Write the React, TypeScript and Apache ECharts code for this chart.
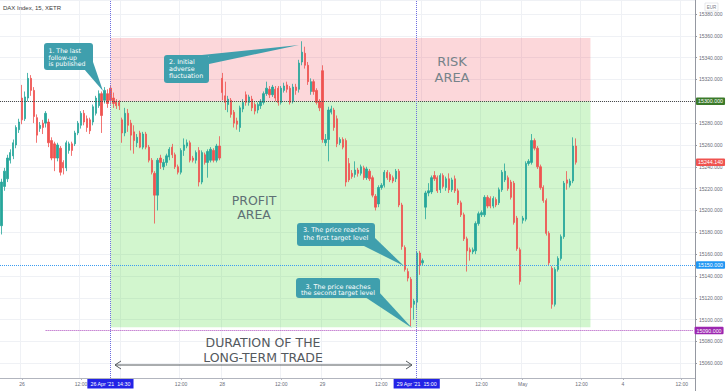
import React, { useEffect, useRef } from "react";
import * as echarts from "echarts";

// ---- time axis ----
const sessionDays = ["Apr 23", "Apr 26", "Apr 27", "Apr 28", "Apr 29", "Apr 30", "May 03", "May 04"];
const firstSessionStart = "13:45";
const sessionOpen = "07:00";
const barsPerSession = 34;
const slotCount = 236;

// tick label per time slot ("" = grid line only, label hidden under a time marker)
const timeTicks: [string, string][] = [
  ["Apr 26 07:00", "26"], ["Apr 26 12:00", "12:00"],
  ["Apr 27 07:00", ""], ["Apr 27 12:00", "12:00"],
  ["Apr 28 07:00", "28"], ["Apr 28 12:00", "12:00"],
  ["Apr 29 07:00", "29"], ["Apr 29 12:00", "12:00"],
  ["Apr 30 07:00", ""], ["Apr 30 12:00", "12:00"],
  ["May 03 07:00", "May"], ["May 03 12:00", "12:00"],
  ["May 04 07:00", "4"], ["May 04 12:00", "12:00"],
];

// ---- price data: [open, close, low, high] (DAX 15m) ----
const candlesPre: number[][] = [
  [15186, 15226, 15178, 15229], [15222, 15236, 15218, 15239], [15229, 15248, 15226, 15251], [15246, 15253, 15243, 15256],
  [15250, 15262, 15247, 15265], [15260, 15276, 15257, 15278], [15274, 15281, 15271, 15284], [15303, 15283, 15279, 15315],
  [15284, 15304, 15282, 15309], [15303, 15321, 15300, 15326], [15321, 15310, 15305, 15324], [15310, 15286, 15280, 15313],
  [15285, 15269, 15262, 15288], [15275, 15278, 15272, 15281], [15280, 15276, 15270, 15283], [15280, 15289, 15276, 15291],
  [15281, 15262, 15258, 15284], [15264, 15248, 15246, 15267], [15261, 15248, 15236, 15263], [15248, 15260, 15245, 15262],
  [15257, 15235, 15232, 15259], [15244, 15239, 15233, 15246], [15239, 15262, 15236, 15264], [15255, 15261, 15252, 15263],
  [15261, 15255, 15250, 15263], [15261, 15271, 15259, 15273], [15271, 15280, 15269, 15282], [15278, 15289, 15275, 15291],
  [15289, 15281, 15278, 15292], [15284, 15276, 15272, 15287], [15283, 15273, 15270, 15285], [15281, 15295, 15278, 15297],
  [15289, 15303, 15287, 15305], [15296, 15307, 15294, 15310], [15307, 15287, 15271, 15309], [15301, 15310, 15298, 15313],
  [15307, 15298, 15294, 15311],
];
const candlesApr26to27: number[][] = [
  [15312, 15301, 15297, 15315], [15303, 15298, 15294, 15308], [15300, 15296, 15293, 15302], [15299, 15296, 15292, 15301],
  [15283, 15271, 15262, 15285], [15271, 15289, 15268, 15294], [15289, 15278, 15272, 15293], [15280, 15269, 15255, 15283],
  [15272, 15264, 15252, 15278], [15262, 15267, 15258, 15270], [15271, 15258, 15257, 15273], [15258, 15270, 15256, 15272],
  [15270, 15258, 15256, 15272], [15258, 15246, 15244, 15260], [15246, 15235, 15233, 15248], [15234, 15214, 15188, 15236],
  [15214, 15246, 15200, 15248], [15248, 15244, 15238, 15251], [15240, 15244, 15237, 15247], [15244, 15250, 15241, 15252],
  [15249, 15256, 15246, 15258], [15258, 15251, 15248, 15261], [15251, 15240, 15238, 15253], [15240, 15235, 15233, 15242],
  [15235, 15255, 15233, 15257], [15255, 15260, 15250, 15266], [15259, 15262, 15257, 15265], [15262, 15246, 15244, 15264],
  [15248, 15246, 15244, 15250], [15246, 15253, 15243, 15255], [15255, 15226, 15222, 15258], [15226, 15253, 15224, 15255],
  [15251, 15244, 15242, 15253], [15244, 15254, 15230, 15256], [15246, 15256, 15244, 15258], [15255, 15246, 15244, 15257],
  [15246, 15259, 15244, 15261], [15259, 15248, 15246, 15268],
];
const candlesApr28to29: number[][] = [
  [15321, 15308, 15301, 15326], [15305, 15299, 15292, 15318], [15297, 15302, 15290, 15305], [15301, 15288, 15285, 15303],
  [15290, 15280, 15276, 15292], [15282, 15279, 15274, 15285], [15276, 15294, 15272, 15296], [15293, 15299, 15290, 15302],
  [15306, 15299, 15296, 15309], [15299, 15304, 15296, 15306], [15302, 15294, 15291, 15305], [15297, 15291, 15288, 15299],
  [15292, 15297, 15289, 15299], [15296, 15300, 15293, 15302], [15299, 15307, 15297, 15309], [15307, 15312, 15305, 15318],
  [15311, 15306, 15303, 15314], [15306, 15313, 15304, 15315], [15311, 15303, 15300, 15314], [15312, 15299, 15296, 15314],
  [15299, 15312, 15297, 15314], [15310, 15314, 15308, 15317], [15315, 15311, 15308, 15318], [15312, 15299, 15297, 15314],
  [15300, 15313, 15298, 15316], [15313, 15310, 15306, 15316], [15311, 15335, 15308, 15338], [15336, 15345, 15333, 15355],
  [15344, 15333, 15330, 15350], [15333, 15318, 15315, 15336], [15309, 15318, 15306, 15321], [15318, 15309, 15306, 15320],
  [15310, 15299, 15297, 15312], [15300, 15294, 15291, 15302],
  [15328, 15265, 15262, 15333], [15262, 15265, 15259, 15270], [15265, 15292, 15245, 15295], [15290, 15293, 15288, 15296],
  [15292, 15276, 15273, 15294], [15284, 15261, 15258, 15287], [15262, 15265, 15260, 15267], [15265, 15258, 15256, 15267],
  [15264, 15226, 15222, 15266], [15243, 15228, 15226, 15248], [15234, 15231, 15229, 15237], [15233, 15237, 15230, 15245],
  [15237, 15234, 15231, 15239], [15234, 15240, 15232, 15242], [15239, 15230, 15228, 15241], [15230, 15238, 15228, 15240],
  [15236, 15229, 15227, 15238], [15230, 15214, 15212, 15232], [15213, 15203, 15200, 15215], [15206, 15221, 15203, 15223],
  [15221, 15223, 15219, 15225], [15223, 15235, 15221, 15237], [15235, 15230, 15228, 15237], [15233, 15228, 15226, 15235],
  [15230, 15227, 15225, 15232], [15229, 15236, 15226, 15238], [15236, 15205, 15203, 15238], [15205, 15167, 15164, 15207],
  [15166, 15146, 15144, 15168], [15144, 15138, 15135, 15147], [15137, 15111, 15094, 15139], [15114, 15117, 15100, 15119],
  [15116, 15161, 15110, 15163], [15161, 15150, 15141, 15163],
];
const candlesApr30toMay3: number[][] = [
  [15152, 15154, 15150, 15156], [15203, 15216, 15192, 15218], [15216, 15218, 15213, 15225], [15217, 15230, 15215, 15232],
  [15232, 15229, 15227, 15236], [15230, 15218, 15216, 15232], [15219, 15232, 15216, 15234], [15232, 15222, 15220, 15234],
  [15221, 15229, 15218, 15231], [15229, 15219, 15216, 15234], [15219, 15228, 15217, 15230], [15229, 15218, 15216, 15232],
  [15218, 15207, 15205, 15220], [15207, 15196, 15194, 15209], [15196, 15174, 15172, 15198], [15174, 15163, 15144, 15176],
  [15164, 15162, 15154, 15166], [15162, 15164, 15160, 15166], [15163, 15188, 15160, 15190], [15188, 15197, 15186, 15199],
  [15196, 15198, 15194, 15200], [15196, 15212, 15194, 15214], [15212, 15204, 15202, 15214], [15211, 15204, 15202, 15213],
  [15204, 15211, 15202, 15213], [15210, 15205, 15203, 15212], [15207, 15219, 15205, 15221], [15219, 15235, 15217, 15237],
  [15228, 15236, 15226, 15243], [15230, 15220, 15218, 15232], [15226, 15212, 15210, 15228], [15225, 15189, 15187, 15227],
  [15193, 15165, 15163, 15195], [15164, 15135, 15132, 15166],
  [15191, 15193, 15188, 15195], [15192, 15243, 15190, 15245], [15243, 15245, 15241, 15247], [15244, 15264, 15242, 15270],
  [15264, 15257, 15255, 15266], [15257, 15240, 15238, 15259], [15240, 15221, 15219, 15242], [15221, 15209, 15207, 15223],
  [15209, 15179, 15177, 15211], [15179, 15152, 15150, 15181], [15147, 15114, 15110, 15149], [15114, 15146, 15112, 15148],
  [15146, 15156, 15144, 15158], [15156, 15176, 15154, 15178], [15176, 15225, 15174, 15227], [15228, 15225, 15219, 15236],
  [15223, 15227, 15221, 15229], [15227, 15259, 15225, 15267], [15259, 15244.14, 15242, 15266],
];

// ---- levels ----
const yMin = 15046.5;
const yMax = 15392.8;
const riskTop = 15358;
const entryLevel = 15300;
const profitBottom = 15093;
const target1 = 15150;
const target2 = 15090;
const lastPrice = 15244.14;
const entryTime = "Apr 26 14:30";
const exitTime = "Apr 29 15:00";
const areaEnd = "May 03 12:45";
const target2Start = "Apr 26 09:00";

function buildSlots(): string[] {
  const out: string[] = [];
  const toMin = (s: string) => {
    const [h, m] = s.split(":").map(Number);
    return h * 60 + m;
  };
  const open = toMin(sessionOpen);
  const first = toMin(firstSessionStart);
  sessionDays.forEach((d, di) => {
    for (let k = 0; k < barsPerSession; k++) {
      const m = open + 15 * k;
      if (di === 0 && m < first) continue;
      if (out.length >= slotCount) return;
      out.push(`${d} ${String(Math.floor(m / 60)).padStart(2, "0")}:${String(m % 60).padStart(2, "0")}`);
    }
  });
  return out;
}

const calloutColor = "#3f9fad";
const FONT = "'Liberation Sans', Arial, sans-serif";
const CFONT = "'DejaVu Sans', Verdana, sans-serif";

type Callout = {
  lines: string[];
  box: [number, number, number, number];
  pointer: number[][];
  tx: number;
  ty: number;
  align: string;
  fs: number;
  lh: number;
};

const callouts: Callout[] = [
  { lines: ["1. The last", "follow-up", "is published"], box: [44, 43, 49, 27], pointer: [[84, 69], [93, 62], [103, 91]], tx: 48.5, ty: 57, align: "left", fs: 6.2, lh: 6.5 },
  { lines: ["2. Initial", "adverse", "fluctuation"], box: [164, 55, 45, 28], pointer: [[192, 56], [299, 45], [209, 64], [209, 56]], tx: 169, ty: 69.3, align: "left", fs: 6.4, lh: 6.9 },
  { lines: ["3. The price reaches", "the first target level"], box: [297, 223, 78, 23], pointer: [[362, 245], [375, 238], [404, 266]], tx: 336, ty: 234.3, align: "center", fs: 6.5, lh: 8 },
  { lines: ["3. The price reaches", "the second target level"], box: [296, 278, 84, 20], pointer: [[365, 297], [378, 291], [412, 328]], tx: 338, ty: 290, align: "center", fs: 6.4, lh: 6.8 },
];

function buildOption() {
  const slots = buildSlots();
  const candles = [...candlesPre, ...candlesApr26to27, ...candlesApr28to29, ...candlesApr30toMay3];
  const tickMap = new Map<string, string>(timeTicks);
  const isTick = (_i: number, v: string) => tickMap.has(v);
  const isLabel = (_i: number, v: string) => !!tickMap.get(v);

  const hLabel = (text: string, bg: string) => ({
    show: true,
    position: "end",
    distance: 1,
    formatter: text,
    color: "#fff",
    backgroundColor: bg,
    padding: [1.5, 2, 1, 2],
    borderRadius: 1,
    fontSize: 5.3,
    fontFamily: FONT,
  });
  const vLabel = (text: string) => ({
    show: true,
    position: "start",
    distance: 1,
    formatter: text,
    color: "#fff",
    backgroundColor: "#2323e6",
    padding: [2.5, 3, 2, 3],
    fontSize: 5.3,
    fontFamily: FONT,
  });

  const graphics: any[] = [];
  graphics.push({
    type: "text", x: 3, y: 7.5, z: 100,
    style: { text: "DAX Index, 15, XETR", fill: "#3a3a3a", fontSize: 6, fontFamily: FONT, align: "left", verticalAlign: "middle" },
  });
  graphics.push({ type: "rect", z: 100, shape: { x: 705, y: 3, width: 13, height: 8 }, style: { fill: "#fff", stroke: "#d6d8de", lineWidth: 0.6 } });
  graphics.push({
    type: "text", x: 711.5, y: 7.2, z: 101,
    style: { text: "EUR", fill: "#787b86", fontSize: 4.5, fontFamily: FONT, align: "center", verticalAlign: "middle" },
  });
  graphics.push({ type: "line", z: 100, shape: { x1: 695.5, y1: 378, x2: 695.5, y2: 391 }, style: { stroke: "#9598a1", lineWidth: 1 } });

  const bigText = (text: string, x: number, y: number, size: number, color: string) => ({
    type: "text", x, y, z: 100,
    style: { text, fill: color, fontSize: size, fontFamily: CFONT, align: "center", verticalAlign: "middle" },
  });
  graphics.push(bigText("RISK", 452, 61.5, 13, "#76838a"));
  graphics.push(bigText("AREA", 452, 77.5, 13, "#76838a"));
  graphics.push(bigText("PROFIT", 254, 200.5, 12.5, "#5f7075"));
  graphics.push(bigText("AREA", 254, 214.5, 12.5, "#5f7075"));
  graphics.push(bigText("DURATION OF THE", 263, 342, 12.5, "#54595e"));
  graphics.push(bigText("LONG-TERM TRADE", 263, 357, 12.5, "#54595e"));

  graphics.push({ type: "line", z: 100, shape: { x1: 115, y1: 365, x2: 412, y2: 365 }, style: { stroke: "#555a5e", lineWidth: 1 } });
  graphics.push({ type: "polyline", z: 100, shape: { points: [[121, 361], [115, 365], [121, 369]] }, style: { stroke: "#555a5e", lineWidth: 1, fill: "none" } });
  graphics.push({ type: "polyline", z: 100, shape: { points: [[406, 361], [412, 365], [406, 369]] }, style: { stroke: "#555a5e", lineWidth: 1, fill: "none" } });

  callouts.forEach((c) => {
    graphics.push({ type: "polygon", z: 100, shape: { points: c.pointer }, style: { fill: calloutColor } });
    graphics.push({ type: "rect", z: 100, shape: { x: c.box[0], y: c.box[1], width: c.box[2], height: c.box[3], r: 3 }, style: { fill: calloutColor } });
    graphics.push({
      type: "text", x: c.tx, y: c.ty, z: 101,
      style: { text: c.lines.join("\n"), fill: "#ffffff", fontSize: c.fs, fontFamily: CFONT, align: c.align, verticalAlign: "middle", lineHeight: c.lh },
    });
  });

  return {
    animation: false,
    backgroundColor: "#ffffff",
    textStyle: { fontFamily: FONT },
    grid: { left: 0, right: 33, top: 0, bottom: 13, containLabel: false },
    xAxis: {
      type: "category",
      data: slots,
      boundaryGap: true,
      axisLine: { lineStyle: { color: "#b2b5be", width: 1 } },
      axisTick: { show: true, length: 2, alignWithLabel: true, interval: isTick, lineStyle: { color: "#b2b5be" } },
      axisLabel: { interval: isLabel, formatter: (v: string) => tickMap.get(v) ?? "", fontSize: 5, color: "#6a6d78", margin: 3, fontFamily: FONT },
      splitLine: { show: true, interval: isTick, lineStyle: { color: "#eff1f5", width: 1 } },
    },
    yAxis: {
      type: "value",
      position: "right",
      min: yMin,
      max: yMax,
      splitNumber: 17,
      axisLine: { show: true, lineStyle: { color: "#9598a1" } },
      axisTick: { show: true, length: 2, lineStyle: { color: "#9598a1" } },
      axisLabel: {
        fontSize: 5, color: "#6a6d78", margin: 4, fontFamily: FONT,
        formatter: (v: number) => v.toFixed(3), showMinLabel: false, showMaxLabel: false,
      },
      splitLine: { show: true, lineStyle: { color: "#eff1f5" } },
    },
    series: [
      {
        type: "candlestick",
        name: "DAX",
        data: candles,
        z: 2,
        barWidth: 1.8,
        itemStyle: { color: "#26a69a", color0: "#ef5350", borderColor: "#26a69a", borderColor0: "#ef5350", borderWidth: 0.8 },
      },
      {
        type: "line",
        name: "areas",
        data: [],
        z: 3,
        clip: false,
        silent: true,
        markArea: {
          silent: true,
          data: [
            [{ xAxis: entryTime, yAxis: entryLevel, itemStyle: { color: "rgba(242,54,69,0.2)" } }, { xAxis: areaEnd, yAxis: riskTop }],
            [{ xAxis: entryTime, yAxis: profitBottom, itemStyle: { color: "rgba(76,220,60,0.25)" } }, { xAxis: areaEnd, yAxis: entryLevel }],
          ],
        },
      },
      {
        type: "line",
        name: "levels",
        data: [],
        z: 4,
        clip: false,
        silent: true,
        markLine: {
          silent: true,
          symbol: ["none", "none"],
          precision: 3,
          data: [
            { yAxis: entryLevel, lineStyle: { color: "#4a4a4a", type: "dotted", width: 1 }, label: hLabel(entryLevel.toFixed(3), "#3b7a2a") },
            { yAxis: target1, lineStyle: { color: "#3c9cf0", type: "dotted", width: 1 }, label: hLabel(target1.toFixed(3), "#2196f3") },
            [
              { coord: [target2Start, target2], lineStyle: { color: "#ab47bc", type: "dotted", width: 1 }, label: hLabel(target2.toFixed(3), "#9c27b0") },
              { coord: [slots[slots.length - 1], target2] },
            ],
            { yAxis: lastPrice, lineStyle: { color: "rgba(0,0,0,0)", width: 0 }, label: hLabel(lastPrice.toFixed(3), "#ef5350") },
            { xAxis: entryTime, lineStyle: { color: "#6d6de0", type: "dotted", width: 1 }, label: vLabel("26 Apr '21  14:30") },
            { xAxis: exitTime, lineStyle: { color: "#6d6de0", type: "dotted", width: 1 }, label: vLabel("29 Apr '21  15:00") },
          ],
        },
      },
    ],
    graphic: graphics,
  };
}

export default function App() {
  const ref = useRef<HTMLDivElement>(null);
  useEffect(() => {
    if (!ref.current) return;
    const chart = echarts.init(ref.current, null, { renderer: "svg" });
    chart.setOption(buildOption() as any);
    return () => chart.dispose();
  }, []);
  return <div ref={ref} style={{ position: "fixed", left: 0, top: 0, width: 728, height: 391, background: "#fff" }} />;
}
